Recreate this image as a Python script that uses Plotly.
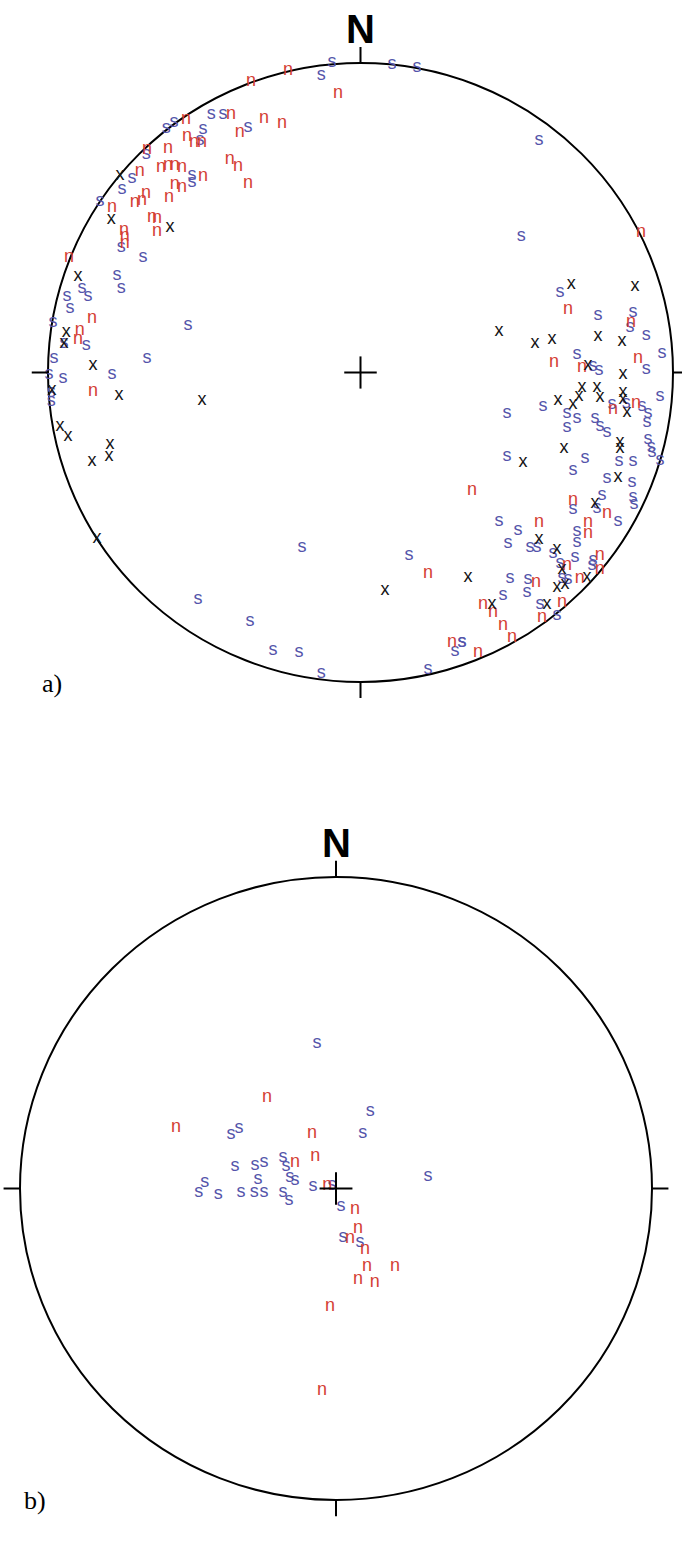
import plotly.graph_objects as go

# ---------------- Data (projected coordinates, primitive radius = 100) -------------
# Panel a) — "s" poles
a_s_e = [-47.8,-44.0,-36.0,-59.7,-62.2,-50.4,-51.4,-68.6,-53.9,-53.9,-73.1,-76.3,-83.4,-76.6,-69.6,
         -9.1,-12.6,10.1,18.1,57.1,51.4,-77.9,-76.6,-89.1,-87.2,-93.9,-93.0,-98.4,-87.8,-94.9,-55.2,
         -68.3,-98.1,-79.5,-95.2,-99.7,-99.0,-99.0,
         63.8,76.0,87.2,86.2,91.4,96.5,69.3,74.4,76.3,91.4,95.8,80.5,85.0,90.1,92.0,91.7,46.9,58.4,
         66.1,69.3,66.1,75.0,76.6,78.9,92.0,93.0,93.3,82.7,87.2,95.8,71.8,46.9,68.0,78.9,86.9,68.0,
         77.3,75.7,82.4,87.2,87.5,44.3,50.4,47.2,54.2,56.5,69.3,69.3,61.6,68.6,63.8,74.4,74.1,47.8,
         53.6,53.3,45.6,64.5,66.4,57.4,62.9,32.5,-18.7,15.5,-35.4,-28.0,-19.7,-12.6,32.5,30.2,21.6,-52.0]
a_s_n = [83.2,83.2,79.3,80.9,78.7,78.4,75.1,70.3,63.8,61.5,62.8,59.0,55.1,40.5,37.0,
         100.0,95.8,99.4,98.4,74.8,44.1,31.2,27.0,27.0,24.4,24.7,20.8,16.3,8.6,9.5,15.3,
         4.4,4.4,-0.8,-2.1,-0.8,-6.6,-9.5,
         25.7,18.3,19.5,14.4,11.8,6.0,5.7,1.8,0.8,1.1,-7.6,-10.2,-9.9,-11.1,-13.4,-16.3,-13.1,-11.1,
         -13.4,-15.0,-17.9,-15.0,-17.6,-19.5,-21.8,-24.1,-25.7,-28.9,-28.9,-28.3,-27.9,-27.3,-31.8,-34.1,-35.7,-44.4,
         -39.9,-44.1,-48.3,-40.5,-42.8,-48.0,-51.2,-55.1,-56.4,-56.7,-51.5,-54.8,-58.6,-59.9,-61.6,-60.6,-62.2,-66.7,
         -67.0,-71.2,-71.9,-66.4,-67.0,-74.8,-78.4,-87.1,-56.7,-59.0,-80.6,-89.7,-90.6,-97.1,-87.4,-90.3,-96.1,-73.2]

# Panel a) — "n" poles
a_n_e = [-35.0,-41.4,-38.6,-55.8,-55.5,-53.3,-50.7,-61.6,-68.3,-41.8,-39.2,-36.0,-63.8,-61.6,-59.4,-57.1,
         -50.4,-59.4,-57.1,-70.6,-79.5,-72.2,-69.9,-68.6,-61.3,-66.7,-65.1,-65.1,-75.7,-75.4,-75.4,-93.3,
         -23.2,-7.2,-30.9,-25.1,89.8,-85.9,-89.8,-90.4,-85.6,
         66.4,86.6,61.9,70.9,88.8,80.8,88.2,35.7,68.0,78.9,57.1,72.8,72.8,66.1,76.6,76.6,56.2,70.2,
         39.2,42.4,64.5,58.1,45.6,48.5,37.6,21.6,29.3]
a_n_n = [93.9,83.2,77.4,81.6,76.1,74.2,74.2,72.5,71.9,68.7,66.7,61.2,66.1,67.0,67.0,66.1,
         63.2,60.6,59.9,65.1,53.2,54.8,55.7,57.7,56.7,50.2,49.9,45.4,46.0,43.8,41.8,37.3,
         97.7,90.0,82.2,80.3,45.1,17.6,13.7,10.5,-6.3,
         20.2,16.3,3.1,1.5,4.4,-12.1,-9.9,-38.0,-41.2,-45.4,-48.6,-48.6,-51.9,-62.5,-59.0,-63.8,-68.0,-66.7,
         -75.1,-77.7,-74.2,-79.0,-81.6,-85.5,-90.6,-64.8,-87.4]

# Panel a) — "x" poles
a_x_e = [-77.0,-79.8,-61.0,-90.4,-94.2,-94.9,-85.6,-98.7,-77.3,-50.7,-96.2,-93.6,-80.2,-80.5,-85.9,-84.3,
         67.4,87.8,44.3,55.8,61.3,76.0,83.7,72.8,84.0,70.9,75.7,63.2,68.0,69.9,76.6,84.0,84.0,85.3,
         83.0,83.0,65.1,52.0,82.4,75.0,57.1,62.9,64.5,34.4,62.9,65.4,72.5,42.1,59.7,7.8]
a_x_n = [63.8,49.3,46.7,30.9,12.8,9.5,2.1,-5.7,-7.3,-9.2,-17.3,-20.8,-23.4,-27.3,-28.6,-53.5,
         28.3,27.9,13.1,9.5,10.5,11.5,9.9,2.1,-0.5,-5.0,-4.7,-8.9,-10.2,-7.9,-8.2,-6.6,-8.6,-12.8,
         -22.5,-24.7,-24.4,-29.2,-33.8,-42.3,-54.1,-57.2,-63.6,-66.1,-69.6,-68.6,-66.1,-74.8,-74.8,-70.3]

# Panel b) — "s" poles
b_s_e = [-33.2,-30.7,-32.0,-25.6,-22.8,-16.8,-15.8,-6.0,10.8,8.5,29.1,-14.6,-13.0,-16.8,-14.9,-7.3,
         -1.3,1.6,2.2,7.6,-43.4,-37.3,-30.1,-25.9,-22.8,-41.5,-24.7]
b_s_n = [17.2,19.4,6.9,7.5,8.2,10.1,6.9,46.4,24.6,17.8,3.7,3.4,2.7,-1.4,-3.7,0.5,
         0.8,-5.9,-15.6,-17.5,-1.4,-1.8,-1.4,-1.4,-1.4,1.8,3.0]

# Panel b) — "n" poles
b_n_e = [-21.8,-50.6,-13.0,-7.6,-6.6,-2.8,6.0,7.0,4.4,9.2,9.8,18.7,7.0,12.3,-1.9,-4.4]
b_n_n = [29.1,19.7,8.2,17.8,10.4,1.1,-6.9,-12.7,-16.2,-19.7,-24.9,-25.2,-29.1,-30.3,-38.0,-64.7]

panel_labels = ["a)", "b)"]
north_label = "N"

# ---------------- Figure -------------
W, H = 682, 1549
BLUE = "rgb(84,84,170)"
RED = "rgb(212,62,52)"
BLACK = "rgb(20,20,20)"
FS = 18
PAD = 12  # axis range beyond the primitive circle (units)

# primitive circle extents in the page (left, right, top, bottom) pixels
panels = {
    "a": dict(l=48, r=673, t=63, b=682, xa="x", ya="y"),
    "b": dict(l=20, r=652, t=877, b=1500, xa="x2", ya="y2"),
}

fig = go.Figure()

def add_text(xs, ys, txt, color, xa, ya):
    fig.add_trace(go.Scatter(
        x=xs, y=ys, mode="text", text=[txt] * len(xs),
        textfont=dict(family="Liberation Sans, Arial, sans-serif", size=FS, color=color),
        textposition="middle center", xaxis=xa, yaxis=ya, hoverinfo="skip",
        cliponaxis=False, showlegend=False))

add_text(a_s_e, a_s_n, "s", BLUE, "x", "y")
add_text(a_n_e, a_n_n, "n", RED, "x", "y")
add_text(a_x_e, a_x_n, "x", BLACK, "x", "y")
add_text(b_s_e, b_s_n, "s", BLUE, "x2", "y2")
add_text(b_n_e, b_n_n, "n", RED, "x2", "y2")

layout_axes = {}
shapes = []
annotations = []
for key, p in panels.items():
    ppx = (p["r"] - p["l"]) / 200.0
    ppy = (p["b"] - p["t"]) / 200.0
    xdom = [(p["l"] - PAD * ppx) / W, (p["r"] + PAD * ppx) / W]
    ydom = [(H - p["b"] - PAD * ppy) / H, (H - p["t"] + PAD * ppy) / H]
    xdom = [max(0, xdom[0]), min(1, xdom[1])]
    ydom = [max(0, ydom[0]), min(1, ydom[1])]
    # ranges chosen so that [-100,100] maps onto the circle extents
    xr = [(xdom[0] * W - p["l"]) / ppx - 100, (xdom[1] * W - p["l"]) / ppx - 100]
    yr = [((H - ydom[0] * H) - p["t"]) / ppy, ((H - ydom[1] * H) - p["t"]) / ppy]
    yr = [100 - yr[0], 100 - yr[1]]
    xname = "xaxis" if p["xa"] == "x" else "xaxis2"
    yname = "yaxis" if p["ya"] == "y" else "yaxis2"
    layout_axes[xname] = dict(range=xr, visible=False, fixedrange=True, domain=xdom, anchor=p["ya"])
    layout_axes[yname] = dict(range=yr, visible=False, fixedrange=True, domain=ydom, anchor=p["xa"])
    lw = dict(color="black", width=2)
    shapes.append(dict(type="circle", xref=p["xa"], yref=p["ya"], x0=-100, x1=100, y0=-100, y1=100,
                       line=lw, layer="below"))
    T = 5.2
    shapes += [
        dict(type="line", xref=p["xa"], yref=p["ya"], x0=0, x1=0, y0=100, y1=100 + T, line=lw),
        dict(type="line", xref=p["xa"], yref=p["ya"], x0=0, x1=0, y0=-100, y1=-100 - T, line=lw),
        dict(type="line", xref=p["xa"], yref=p["ya"], x0=-100, x1=-100 - T, y0=0, y1=0, line=lw),
        dict(type="line", xref=p["xa"], yref=p["ya"], x0=100, x1=100 + T, y0=0, y1=0, line=lw),
    ]
    C = 5.2
    shapes += [
        dict(type="line", xref=p["xa"], yref=p["ya"], x0=-C, x1=C, y0=0, y1=0, line=lw),
        dict(type="line", xref=p["xa"], yref=p["ya"], x0=0, x1=0, y0=-C, y1=C, line=lw),
    ]
    annotations.append(dict(x=0, y=100 + T, xref=p["xa"], yref=p["ya"], text="<b>%s</b>" % north_label,
                            showarrow=False, yanchor="bottom", xanchor="center", yshift=-6,
                            font=dict(family="Liberation Sans, Arial, sans-serif", size=40, color="black")))

annotations.append(dict(x=52 / W, y=(H - 683) / H, xref="paper", yref="paper", text=panel_labels[0],
                        showarrow=False, xanchor="center", yanchor="middle",
                        font=dict(family="Liberation Serif, Times New Roman, serif", size=26, color="black")))
annotations.append(dict(x=35 / W, y=(H - 1500) / H, xref="paper", yref="paper", text=panel_labels[1],
                        showarrow=False, xanchor="center", yanchor="middle",
                        font=dict(family="Liberation Serif, Times New Roman, serif", size=26, color="black")))

fig.update_layout(
    width=W, height=H, margin=dict(l=0, r=0, t=0, b=0),
    paper_bgcolor="white", plot_bgcolor="rgba(0,0,0,0)",
    shapes=shapes, annotations=annotations, showlegend=False,
    **layout_axes)

fig.write_html("out.html", config={"displayModeBar": False},
               post_script="document.body.style.margin='0';document.body.style.overflow='hidden';")
